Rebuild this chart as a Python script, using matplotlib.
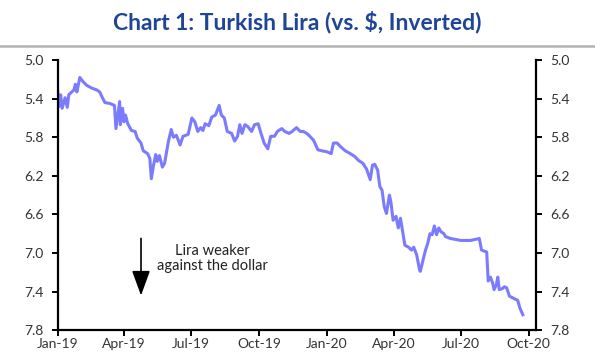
"""
Turkish lira vs US dollar, inverted axis.
"""

# %%
import matplotlib
matplotlib.use('Agg')
import matplotlib.pyplot as plt
import pandas as pd


# %% data (USD/TRY)
dates = [
    '2019-01-01', '2019-01-03', '2019-01-05', '2019-01-07', '2019-01-11', '2019-01-14', '2019-01-16',
    '2019-01-20', '2019-01-23', '2019-01-25', '2019-01-27', '2019-01-31', '2019-02-04', '2019-02-09',
    '2019-02-16', '2019-02-23', '2019-02-27', '2019-03-02', '2019-03-06', '2019-03-13', '2019-03-19',
    '2019-03-21', '2019-03-24', '2019-03-26', '2019-03-27', '2019-03-30', '2019-04-01', '2019-04-03',
    '2019-04-06', '2019-04-11', '2019-04-16', '2019-04-19', '2019-04-24', '2019-04-27', '2019-05-03',
    '2019-05-06', '2019-05-08', '2019-05-11', '2019-05-14', '2019-05-16', '2019-05-19', '2019-05-23',
    '2019-05-26', '2019-05-31', '2019-06-04', '2019-06-07', '2019-06-11', '2019-06-16', '2019-06-20',
    '2019-06-27', '2019-07-02', '2019-07-06', '2019-07-10', '2019-07-14', '2019-07-17', '2019-07-20',
    '2019-07-25', '2019-07-29', '2019-08-03', '2019-08-08', '2019-08-11', '2019-08-15', '2019-08-19',
    '2019-08-25', '2019-08-29', '2019-09-02', '2019-09-05', '2019-09-08', '2019-09-12', '2019-09-16',
    '2019-09-21', '2019-09-25', '2019-09-30', '2019-10-03', '2019-10-08', '2019-10-13', '2019-10-17',
    '2019-10-22', '2019-10-26', '2019-11-01', '2019-11-05', '2019-11-11', '2019-11-15', '2019-11-21',
    '2019-11-26', '2019-11-30', '2019-12-05', '2019-12-09', '2019-12-14', '2019-12-20', '2019-12-25',
    '2020-01-01', '2020-01-07', '2020-01-10', '2020-01-15', '2020-01-20', '2020-01-26', '2020-02-02',
    '2020-02-08', '2020-02-13', '2020-02-19', '2020-02-24', '2020-02-29', '2020-03-03', '2020-03-06',
    '2020-03-10', '2020-03-13', '2020-03-16', '2020-03-19', '2020-03-22', '2020-03-26', '2020-03-28',
    '2020-03-31', '2020-04-04', '2020-04-07', '2020-04-10', '2020-04-13', '2020-04-16', '2020-04-21',
    '2020-04-25', '2020-04-28', '2020-05-02', '2020-05-06', '2020-05-07', '2020-05-11', '2020-05-14',
    '2020-05-17', '2020-05-20', '2020-05-23', '2020-05-26', '2020-05-29', '2020-06-01', '2020-06-04',
    '2020-06-08', '2020-06-10', '2020-06-17', '2020-07-01', '2020-07-14', '2020-07-26', '2020-07-29',
    '2020-08-05', '2020-08-07', '2020-08-10', '2020-08-13', '2020-08-15', '2020-08-18', '2020-08-20',
    '2020-08-22', '2020-08-26', '2020-08-29', '2020-09-01', '2020-09-05', '2020-09-08', '2020-09-13',
    '2020-09-16', '2020-09-19', '2020-09-23',
]
usdtry = [
    5.32, 5.48, 5.36, 5.50, 5.39, 5.49, 5.36,
    5.33, 5.31, 5.25, 5.33, 5.18, 5.22, 5.26,
    5.29, 5.31, 5.33, 5.38, 5.44, 5.45, 5.47,
    5.71, 5.54, 5.43, 5.67, 5.50, 5.64, 5.57,
    5.66, 5.73, 5.74, 5.81, 5.86, 5.94, 5.97,
    6.02, 6.23, 6.09, 5.98, 6.05, 5.99, 6.11,
    6.07, 5.85, 5.72, 5.80, 5.78, 5.88, 5.79,
    5.77, 5.60, 5.64, 5.74, 5.70, 5.73, 5.66,
    5.68, 5.59, 5.57, 5.47, 5.57, 5.60, 5.74,
    5.76, 5.84, 5.79, 5.67, 5.76, 5.67, 5.69,
    5.74, 5.67, 5.66, 5.74, 5.86, 5.92, 5.79,
    5.79, 5.74, 5.71, 5.74, 5.76, 5.74, 5.70,
    5.74, 5.74, 5.76, 5.79, 5.83, 5.93, 5.94,
    5.95, 5.97, 5.86, 5.86, 5.90, 5.94, 5.97,
    6.00, 6.04, 6.07, 6.13, 6.24, 6.09, 6.08,
    6.14, 6.31, 6.35, 6.52, 6.59, 6.40, 6.47,
    6.66, 6.62, 6.74, 6.64, 6.78, 6.92, 6.94,
    6.97, 6.94, 7.02, 7.18, 7.19, 7.06, 6.97,
    6.90, 6.80, 6.81, 6.72, 6.81, 6.74, 6.78,
    6.80, 6.83, 6.85, 6.87, 6.87, 6.85, 6.97,
    6.99, 7.29, 7.25, 7.31, 7.38, 7.33, 7.25,
    7.38, 7.37, 7.35, 7.36, 7.45, 7.46, 7.48,
    7.49, 7.57, 7.64,
]

yticks = [5.0, 5.4, 5.8, 6.2, 6.6, 7.0, 7.4, 7.8]
xticks = ['2019-01-01', '2019-04-01', '2019-07-01', '2019-10-01',
          '2020-01-01', '2020-04-01', '2020-07-01', '2020-10-01']
xtickLabels = ['Jan-19', 'Apr-19', 'Jul-19', 'Oct-19', 'Jan-20', 'Apr-20', 'Jul-20', 'Oct-20']

titleText = 'Chart 1: Turkish Lira (vs. $, Inverted)'
noteText = 'Lira weaker\nagainst the dollar'


# %% plot
plt.rcParams['font.family'] = ['Lato', 'DejaVu Sans']

x = pd.to_datetime(dates)
fig = plt.figure(figsize=(5.95, 3.62), dpi=100)
ax = fig.add_axes([0.097, 0.088, 0.804, 0.746])

ax.plot(x, usdtry, color='#7b7bff', lw=2.2)

ax.set_ylim(7.8, 5.0)
ax.set_yticks(yticks)
ax.set_yticklabels([f'{v:.1f}' for v in yticks])
ax.set_xlim(pd.Timestamp('2019-01-01'), pd.Timestamp('2020-10-11'))
ax.set_xticks(pd.to_datetime(xticks))
ax.set_xticklabels(xtickLabels)

ax.spines['top'].set_visible(False)
for s in ['left', 'right', 'bottom']:
    ax.spines[s].set_linewidth(1.6)
ax.tick_params(axis='both', direction='out', length=4, width=1.4,
               labelsize=10, labelcolor='#333333', pad=2)
ax.tick_params(axis='y', right=True, labelright=True, pad=6)

# annotation arrow and text
ax.annotate('', xy=(pd.Timestamp('2019-04-24'), 7.47), xytext=(pd.Timestamp('2019-04-24'), 6.82),
            arrowprops=dict(arrowstyle='-|>,head_width=0.4,head_length=1.1', mutation_scale=14,
                            color='black', lw=1.2))
ax.text(pd.Timestamp('2019-07-30'), 7.06, noteText, ha='center', va='center',
        fontsize=10.5, color='#222222', linespacing=1.1)

# title and rule under it
fig.text(0.5, 0.94, titleText, ha='center', va='center', fontsize=16.5,
         fontweight='bold', color='#1f4596')
fig.add_artist(plt.Line2D([0, 1], [0.874, 0.874], color='#b3b3b3', lw=1.8))

fig.savefig('out.png', dpi=100)
